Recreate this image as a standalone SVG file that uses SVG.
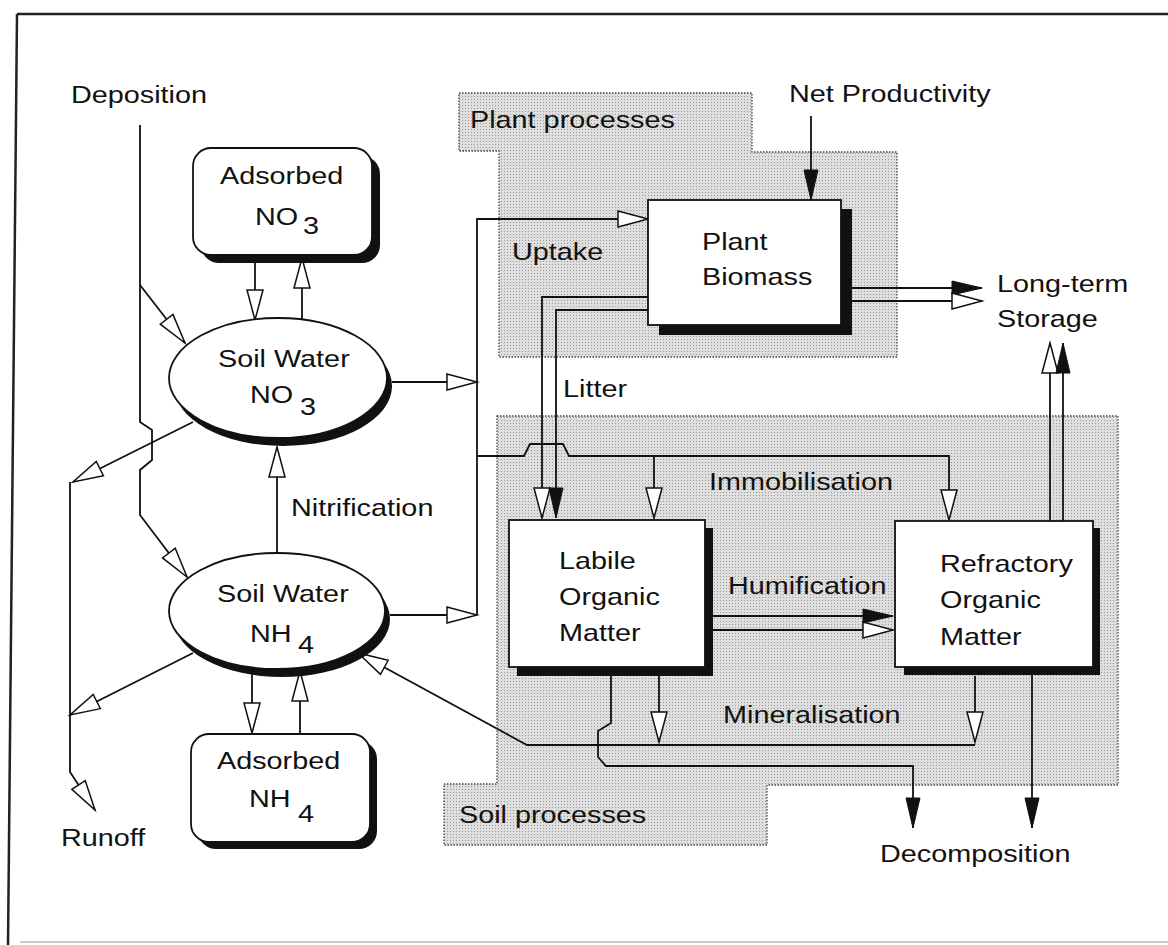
<svg xmlns="http://www.w3.org/2000/svg" width="1168" height="945" viewBox="0 0 1168 945">
<defs>
<pattern id="dots" width="3" height="3" patternUnits="userSpaceOnUse">
<rect width="3" height="3" fill="#dedede"/>
<rect width="1" height="1" fill="#9a9a9a"/>
</pattern>
<marker id="hollow" markerUnits="userSpaceOnUse" markerWidth="36" markerHeight="20" refX="31" refY="9" orient="auto" overflow="visible">
<path d="M1,1 L31,9 L1,17 Z" fill="#fff" stroke="#111" stroke-width="1.5" stroke-linejoin="miter"/>
</marker>
<marker id="solid" markerUnits="userSpaceOnUse" markerWidth="36" markerHeight="20" refX="31" refY="8" orient="auto" overflow="visible">
<path d="M1,1 L31,8 L1,15 Z" fill="#111" stroke="#111" stroke-width="1"/>
</marker>
<style>
.t{font-family:"Liberation Sans",Arial,sans-serif;font-size:24px;fill:#111}
.c{fill:none;stroke:#111;stroke-width:1.8;stroke-linejoin:miter}
.h{marker-end:url(#hollow)}
.s{marker-end:url(#solid)}
.box{fill:#fff;stroke:#111;stroke-width:1.8}
.sh{fill:#111}
.region{fill:url(#dots);stroke:#444;stroke-width:1.3;stroke-dasharray:1.5 1.5}
</style>
</defs>
<rect width="1168" height="945" fill="#fff"/>
<g id="frame">
<line x1="17" y1="14" x2="1168" y2="14" stroke="#222" stroke-width="2.5"/>
<line x1="17" y1="14" x2="8" y2="945" stroke="#222" stroke-width="2.5"/>
<line x1="20" y1="942" x2="1168" y2="942" stroke="#ccc" stroke-width="2"/>
</g>
<g id="plant-processes">
<path class="region" d="M459,93 H752 V152 H897 V357 H499 V151 H459 Z"/>
<text class="t" transform="translate(470,128) scale(1.2,1)">Plant processes</text>
</g>
<g id="soil-processes">
<path class="region" d="M497,416 H1118 V785 H767 V845 H444 V784 H497 Z"/>
<text class="t" transform="translate(459,823) scale(1.2,1)">Soil processes</text>
</g>
<g id="connectors">
<path class="c h" d="M140,125 V422 L152,430 V460 L140,470 V515 L187,577"/>
<path class="c h" d="M140,285 L185,343"/>
<path class="c h" d="M193,422 L73,482"/>
<path class="c h" d="M193,653 L70,715"/>
<path class="c h" d="M70,482 V772 L95,810"/>
<path class="c h" d="M255,263 V320"/>
<path class="c h" d="M302,320 V258"/>
<path class="c h" d="M277,552 V447"/>
<path class="c h" d="M252,670 V733"/>
<path class="c h" d="M300,734 V671"/>
<path class="c h" d="M392,382 H477"/>
<path class="c h" d="M390,615 H477"/>
<path class="c h" d="M477,615 V219 H648"/>
<path class="c h" d="M477,456 H524 L530,444 H563 L569,456 H949 V520"/>
<path class="c h" d="M654,456 V518"/>
<path class="c h" d="M648,297 H542 V518"/>
<path class="c s" d="M648,310 H556 V518"/>
<path class="c s" d="M811,116 V200"/>
<path class="c s" d="M852,288 H982"/>
<path class="c h" d="M852,301 H982"/>
<path class="c h" d="M1050,521 V343"/>
<path class="c s" d="M1063,521 V343"/>
<path class="c s" d="M713,616 H893"/>
<path class="c h" d="M713,630 H893"/>
<path class="c h" d="M659,676 V742"/>
<path class="c h" d="M975,676 V742"/>
<path class="c h" d="M975,745 H527 L358,653"/>
<path class="c s" d="M611,676 V723 L598,731 V757 L606,766 H913 V828"/>
<path class="c s" d="M1032,675 V828"/>
</g>
<g id="adsorbed-no3">
<rect class="sh" x="201" y="156" width="179" height="107" rx="18"/>
<rect class="box" x="193" y="148" width="179" height="107" rx="18"/>
<text class="t" transform="translate(220,184) scale(1.2,1)">Adsorbed</text>
<text class="t" transform="translate(255,225) scale(1.2,1)">NO</text>
<text class="t" transform="translate(303,234) scale(1.2,1)">3</text>
</g>
<g id="soil-water-no3">
<ellipse class="sh" cx="283" cy="386" rx="109" ry="60"/>
<ellipse class="box" cx="278" cy="378" rx="109" ry="60"/>
<text class="t" transform="translate(218,367) scale(1.2,1)">Soil Water</text>
<text class="t" transform="translate(250,403) scale(1.2,1)">NO</text>
<text class="t" transform="translate(300,415) scale(1.2,1)">3</text>
</g>
<g id="soil-water-nh4">
<ellipse class="sh" cx="282" cy="619" rx="108" ry="58"/>
<ellipse class="box" cx="277" cy="611" rx="108" ry="58"/>
<text class="t" transform="translate(217,602) scale(1.2,1)">Soil Water</text>
<text class="t" transform="translate(250,642) scale(1.2,1)">NH</text>
<text class="t" transform="translate(298,653) scale(1.2,1)">4</text>
</g>
<g id="adsorbed-nh4">
<rect class="sh" x="198" y="741" width="179" height="108" rx="18"/>
<rect class="box" x="191" y="734" width="179" height="108" rx="18"/>
<text class="t" transform="translate(217,769) scale(1.2,1)">Adsorbed</text>
<text class="t" transform="translate(249,807) scale(1.2,1)">NH</text>
<text class="t" transform="translate(298,822) scale(1.2,1)">4</text>
</g>
<g id="plant-biomass">
<rect class="sh" x="659" y="209" width="193" height="126"/>
<rect class="box" x="648" y="200" width="193" height="125"/>
<text class="t" transform="translate(702,250) scale(1.2,1)">Plant</text>
<text class="t" transform="translate(702,285) scale(1.2,1)">Biomass</text>
</g>
<g id="labile">
<rect class="sh" x="517" y="528" width="196" height="148"/>
<rect class="box" x="509" y="520" width="196" height="147"/>
<text class="t" transform="translate(559,569) scale(1.2,1)">Labile</text>
<text class="t" transform="translate(559,605) scale(1.2,1)">Organic</text>
<text class="t" transform="translate(559,641) scale(1.2,1)">Matter</text>
</g>
<g id="refractory">
<rect class="sh" x="904" y="528" width="196" height="147"/>
<rect class="box" x="895" y="521" width="198" height="146"/>
<text class="t" transform="translate(940,572) scale(1.2,1)">Refractory</text>
<text class="t" transform="translate(940,608) scale(1.2,1)">Organic</text>
<text class="t" transform="translate(940,645) scale(1.2,1)">Matter</text>
</g>
<g id="labels">
<text class="t" transform="translate(71,103) scale(1.2,1)">Deposition</text>
<text class="t" transform="translate(291,516) scale(1.2,1)">Nitrification</text>
<text class="t" transform="translate(61,846) scale(1.2,1)">Runoff</text>
<text class="t" transform="translate(789,102) scale(1.2,1)">Net Productivity</text>
<text class="t" transform="translate(512,260) scale(1.2,1)">Uptake</text>
<text class="t" transform="translate(997,292) scale(1.2,1)">Long-term</text>
<text class="t" transform="translate(997,327) scale(1.2,1)">Storage</text>
<text class="t" transform="translate(563,397) scale(1.2,1)">Litter</text>
<text class="t" transform="translate(709,490) scale(1.2,1)">Immobilisation</text>
<text class="t" transform="translate(728,594) scale(1.2,1)">Humification</text>
<text class="t" transform="translate(723,723) scale(1.2,1)">Mineralisation</text>
<text class="t" transform="translate(880,862) scale(1.2,1)">Decomposition</text>
</g>
</svg>
